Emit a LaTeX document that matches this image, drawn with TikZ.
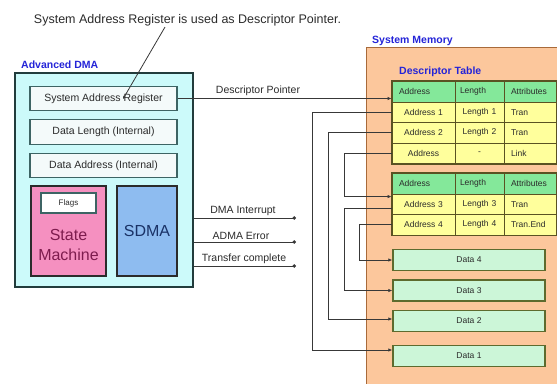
\documentclass[tikz,border=0pt]{standalone}
\usepackage{fontspec}
\setmainfont{Liberation Sans}
\usetikzlibrary{arrows.meta,calc}
\definecolor{admafill}{HTML}{CCFAFA}
\definecolor{admaborder}{HTML}{223C3C}
\definecolor{regfill}{HTML}{F4FAFA}
\definecolor{regborder}{HTML}{3D6464}
\definecolor{smfill}{HTML}{F590C0}
\definecolor{smtext}{HTML}{7E1C4E}
\definecolor{sdmafill}{HTML}{8EBCF0}
\definecolor{sdmatext}{HTML}{1A3266}
\definecolor{memfill}{HTML}{FCC79C}
\definecolor{memborder}{HTML}{A86A3A}
\definecolor{hdrfill}{HTML}{84E89A}
\definecolor{rowfill}{HTML}{FFFF9C}
\definecolor{tblborder}{HTML}{5A5222}
\definecolor{datafill}{HTML}{CCF6D8}
\definecolor{databorder}{HTML}{5D6B2E}
\definecolor{bluelbl}{HTML}{2424D8}
\definecolor{txt}{HTML}{2B2B2B}
\definecolor{linecol}{HTML}{383838}
\newcommand\myfs[1]{\fontsize{#1}{#1}\selectfont}
\newcommand\trow[7]{%
  \node[#4,cola,minimum height=#3] (#1a) at (423.5,#2) {#5};
  \node[#4,colb,minimum height=#3] (#1b) at (479.5,#2) {#6};
  \node[#4,colc,minimum height=#3] (#1c) at (530,#2) {#7};}
\begin{document}
\begin{tikzpicture}[x=1pt,y=-1pt,
  regbox/.style={draw=regborder, line width=1.4, fill=regfill, minimum width=147, minimum height=24.5, inner sep=0, font=\myfs{10.5}, text=txt},
  lbl/.style={font=\myfs{10.5}, text=txt, inner sep=1},
  bluetitle/.style={font=\bfseries\myfs{10.5}, text=bluelbl, inner sep=0, anchor=west},
  cellbase/.style={draw=tblborder, line width=0.9, inner ysep=0, font=\myfs{8.5}, text=txt},
  hdrcell/.style={cellbase, fill=hdrfill, align=left},
  rowcell/.style={cellbase, fill=rowfill, align=center},
  cola/.style={inner xsep=7, text width=49},
  colb/.style={inner xsep=5, text width=39},
  colc/.style={inner xsep=7, text width=38, align=left},
  databox/.style={draw=databorder, line width=1.4, fill=datafill, minimum width=152, minimum height=21, inner sep=0, font=\myfs{8.5}, text=txt},
  conn/.style={draw=linecol, line width=0.9, -{Latex[length=4pt,width=3.5pt]}},
  sig/.style={draw=linecol, line width=0.9, -{Circle[length=3.5pt]}}
  ]
\clip (0,0) rectangle (557,383);
\fill[white] (0,0) rectangle (557,383);

% title and leader
\node[font=\myfs{12.5}, text=txt, inner sep=1] (title) at (187.5,20) {System Address Register is used as Descriptor Pointer.};

% Advanced DMA
\node[bluetitle] (admalbl) at (21,65) {Advanced DMA};
\node[draw=admaborder, line width=1.8, fill=admafill, minimum width=178, minimum height=214, inner sep=0] (adma) at (104,180) {};
\node[regbox] (sar) at (103.5,98.5) {System Address Register};
\node[regbox] (dlen) at (103.5,132) {Data Length (Internal)};
\node[regbox] (dadr) at (103.5,165.5) {Data Address (Internal)};
\node[draw=txt, line width=1.4, fill=smfill, minimum width=75, minimum height=90, inner sep=0] (sm) at (68.5,231) {};
\node[draw=regborder, line width=1.2, fill=white, minimum width=55, minimum height=20, inner sep=0, font=\myfs{8}, text=txt] (flags) at (68.5,203) {Flags};
\node[align=center, font=\myfs{16}, text=smtext, inner sep=0] (smt) at (68.5,244.5) {State\\[4pt]Machine};
\node[draw=txt, line width=1.4, fill=sdmafill, minimum width=60, minimum height=90, inner sep=0, font=\myfs{16}, text=sdmatext] (sdma) at (147,231) {SDMA};

\coordinate (la) at (165,0);
\coordinate (lb) at (123,99);
\draw[draw=linecol, line width=0.8, -{Latex[length=3pt,width=3pt]}] (title.south -| la) -- (lb);

% System memory
\node[bluetitle] (memlbl) at (372,41) {System Memory};
\node[draw=memborder, line width=1, fill=memfill, minimum width=240, minimum height=360, inner sep=0, anchor=north west] (mem) at (366,47) {};
\node[bluetitle] (dtlbl) at (399,72) {Descriptor Table};

% table 1
\trow{th}{91.5}{21}{hdrcell}{Address}{Length}{Attributes}
\trow{ra}{112.25}{20.5}{rowcell}{Address 1}{Length 1}{Tran}
\trow{rb}{132.75}{20.5}{rowcell}{Address 2}{Length 2}{Tran}
\trow{rc}{153.25}{20.5}{rowcell}{Address}{-}{Link}
\draw[tblborder, line width=1.5] (tha.north west) rectangle (rcc.south east);
% table 2
\trow{tu}{183.5}{21}{hdrcell}{Address}{Length}{Attributes}
\trow{rd}{204.25}{20.5}{rowcell}{Address 3}{Length 3}{Tran}
\trow{re}{224.75}{20.5}{rowcell}{Address 4}{Length 4}{Tran.End}
\draw[tblborder, line width=1.5] (tua.north west) rectangle (rec.south east);

% data blocks
\node[databox] (d4) at (469,260) {Data 4};
\node[databox] (d3) at (469,290.5) {Data 3};
\node[databox] (d2) at (469,321) {Data 2};
\node[databox] (d1) at (469,356) {Data 1};

% descriptor pointer
\draw[conn] (sar.east) -- (sar.east -| tha.west);
\node[lbl] (dplbl) at (258,91) {Descriptor Pointer};

% descriptor connectors
\coordinate (v1) at (312,0);
\coordinate (v2) at (328,0);
\coordinate (v3) at (344,0);
\coordinate (v5) at (359,0);
\draw[conn] (raa.west) -- (raa.west -| v1) -- ([yshift=6pt]d1.west -| v1) -- ([yshift=6pt]d1.west);
\draw[conn] (rba.west) -- (rba.west -| v2) -- ([yshift=2pt]d2.west -| v2) -- ([yshift=2pt]d2.west);
\draw[conn] (rca.west) -- (rca.west -| v3) -- ([yshift=-3pt]rda.north west -| v3) -- ([yshift=-3pt]rda.north west);
\draw[conn] ([yshift=-4pt]rda.west) -- ([yshift=-4pt]rda.west -| v3) -- (d3.west -| v3) -- (d3.west);
\draw[conn] (rea.west) -- (rea.west -| v5) -- (d4.west -| v5) -- (d4.west);

% signals
\coordinate (s1) at (296,218);
\coordinate (s2) at (296,242);
\coordinate (s3) at (296,266);
\draw[sig] (s1 -| adma.east) -- (s1);
\draw[sig] (s2 -| adma.east) -- (s2);
\draw[sig] (s3 -| adma.east) -- (s3);
\node[lbl, anchor=south] (sl1) at (243,217) {DMA Interrupt};
\node[lbl, anchor=south] (sl2) at (241,241) {ADMA Error};
\node[lbl, anchor=south] (sl3) at (244,265) {Transfer complete};
\end{tikzpicture}
\end{document}
